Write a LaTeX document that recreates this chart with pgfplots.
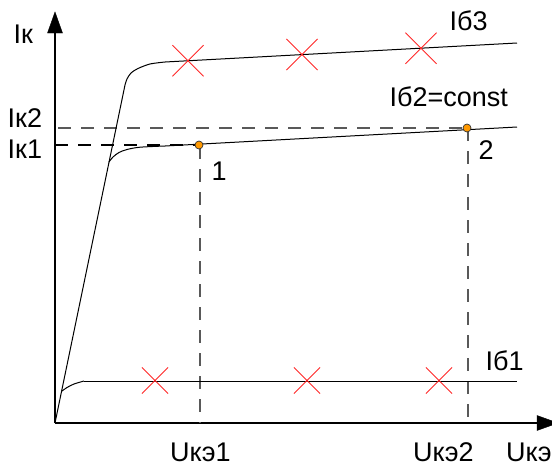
\documentclass[border=0pt]{standalone}
\usepackage{pgfplots}
\pgfplotsset{compat=1.18}
\usepackage{fontspec}
\setmainfont{Liberation Sans}
\definecolor{crossred}{RGB}{255,40,40}
\definecolor{dotorange}{RGB}{255,153,0}
\tikzset{lbl/.style={anchor=base west, inner sep=0pt, font=\fontsize{27}{30}\selectfont}}
\begin{document}
\begin{tikzpicture}
\begin{axis}[x=1pt, y=1pt, y dir=reverse, xmin=0, xmax=552, ymin=0, ymax=466,
  hide axis, scale only axis, clip=true]
% axes
\addplot[black, line width=1.3pt] coordinates {(55,423) (55,30)};
\addplot[black, fill=black] coordinates {(47.5,33) (55,12) (62.5,33)} -- cycle;
\addplot[black, line width=1.3pt] coordinates {(55,423) (540,423)};
\addplot[black, fill=black] coordinates {(537,415.5) (558,423) (537,430.5)} -- cycle;
% dashed helper lines
\addplot[gray!70!black, line width=1.3pt, dash pattern=on 13pt off 10pt] coordinates {(58,128) (468,128)};
\addplot[black, line width=1.1pt, dash pattern=on 13pt off 10pt] coordinates {(55,145) (199,145)};
\addplot[gray!70!black, line width=1.5pt, dash pattern=on 13pt off 10pt] coordinates {(200,146) (200,423)};
\addplot[gray!70!black, line width=1.5pt, dash pattern=on 13pt off 10pt] coordinates {(468,128) (468,423)};
% steep line
\addplot[black, line width=1pt] coordinates {(55,423) (125,85)};
% Ib3
\addplot[black, line width=1pt, smooth] coordinates {(125,85) (127,79) (131,73) (138,68.5) (150,64) (165,62)};
\addplot[black, line width=1pt] coordinates {(165,62) (517,43)};
% Ib2
\addplot[black, line width=1pt, smooth] coordinates {(109,162) (113,157) (119,152.5) (127,149.5) (140,147.2) (165,146)};
\addplot[black, line width=1pt] coordinates {(165,146) (517,127)};
% Ib1
\addplot[black, line width=1pt, smooth] coordinates {(62,391) (67,387.5) (74,384) (84,381)};
\addplot[black, line width=1pt] coordinates {(84,381) (517,381)};
% crosses
\addplot[only marks, mark=x, mark size=22pt, mark options={crossred, line width=0.8pt}] coordinates {(188,60.7) (302,54.5) (421,48.2)};
\addplot[only marks, mark=x, mark size=18.4pt, mark options={crossred, line width=0.8pt}] coordinates {(155,380.5) (307,380.5) (439,380.5)};
% points
\addplot[only marks, mark=*, mark size=4pt, mark options={fill=dotorange, draw=black!80, line width=0.7pt}] coordinates {(199,145) (467,128)};
% labels
\node[lbl] at (axis cs:13.5,43.5) {Iк};
\node[lbl] at (axis cs:7.5,127) {Iк2};
\node[lbl] at (axis cs:7.5,158) {Iк1};
\node[lbl] at (axis cs:449.5,30) {Iб3};
\node[lbl] at (axis cs:389.5,106) {Iб2=const};
\node[lbl] at (axis cs:478.5,159) {2};
\node[lbl] at (axis cs:211.5,180) {1};
\node[lbl] at (axis cs:485.5,370) {Iб1};
\node[lbl] at (axis cs:170,461) {Uкэ1};
\node[lbl] at (axis cs:413,461) {Uкэ2};
\node[lbl] at (axis cs:506,461) {Uкэ};
\end{axis}
\pgfresetboundingbox
\useasboundingbox (current axis.south west) rectangle (current axis.north east);
\end{tikzpicture}
\end{document}
